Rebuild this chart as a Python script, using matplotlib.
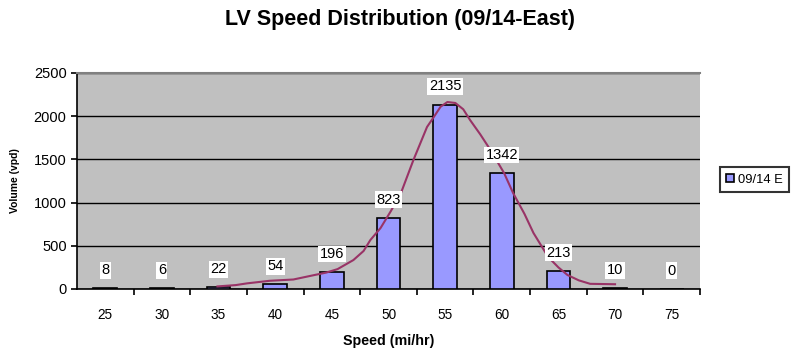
import numpy as np
import matplotlib.pyplot as plt

plt.rcParams['font.family'] = ['Liberation Sans', 'DejaVu Sans']

speeds = [25, 30, 35, 40, 45, 50, 55, 60, 65, 70, 75]
volumes = [8, 6, 22, 54, 196, 823, 2135, 1342, 213, 10, 0]

# smooth curve
curve_x = [34.9, 36.5, 37.5, 39.5, 41.6, 43.4, 44.5, 45.5, 46.9, 47.8, 48.4, 49.3,
           50.2, 51.1, 52.2, 53.4, 54.0, 54.6, 55.2, 55.9, 56.6, 57.2, 58.1,
           59.0, 60.2, 61.0, 62.0, 62.8, 64.1, 65.0, 65.8, 66.8, 67.8, 70.0]
curve_y = [30, 45, 65, 95, 110, 160, 190, 230, 335, 440, 567, 706,
           900, 1111, 1493, 1875, 1991, 2110, 2164, 2153, 2080, 1956, 1790,
           1609, 1343, 1111, 870, 648, 370, 250, 162, 100, 60, 55]

fig = plt.figure(figsize=(7.94, 3.51), dpi=100)
ax = fig.add_axes([77/794, 1 - 289/351, 623/794, 216/351])
ax.set_facecolor('#C0C0C0')

ax.bar(speeds, volumes, width=2.1, color='#9999FF', edgecolor='black',
       linewidth=1.2, zorder=3, label='09/14 E')
ax.plot(curve_x, curve_y, color='#993366', linewidth=1.5, zorder=4)

for s, v in zip(speeds, volumes):
    ax.annotate(str(v), (s, v), xytext=(0, 13), textcoords='offset points',
                ha='center', va='center', fontsize=10.5, zorder=5,
                bbox=dict(boxstyle='square,pad=0.1', fc='white', ec='none'))

ax.set_xlim(22.5, 77.5)
ax.set_ylim(0, 2500)
ax.set_yticks([0, 500, 1000, 1500, 2000, 2500])
ax.yaxis.grid(True, color='black', linewidth=1, zorder=1)
ax.set_axisbelow(True)

ax.set_xticks(speeds)
ax.set_xticks(np.arange(27.5, 77.6, 5), minor=True)
ax.tick_params(axis='x', which='major', length=0, pad=14, labelsize=9.8)
ax.tick_params(axis='x', which='minor', length=4, width=1.2, direction='out')
ax.tick_params(axis='y', length=4, width=1.2, labelsize=10.5)

ax.spines['right'].set_visible(False)
ax.spines['top'].set_color('#808080')
ax.spines['top'].set_linewidth(1.5)
ax.spines['left'].set_linewidth(1.2)
ax.spines['bottom'].set_linewidth(1.2)

ax.set_xlabel('Speed (mi/hr)', fontsize=10.3, fontweight='bold', labelpad=8)
ax.set_ylabel('Volume (vpd)', fontsize=7.5, fontweight='bold', labelpad=10)
fig.suptitle('LV Speed Distribution (09/14-East)', x=0.504, y=0.975,
             fontsize=15.5, fontweight='bold')

leg = ax.legend(loc='center left', bbox_to_anchor=((720 - 77) / 623, 0.505),
                fontsize=9.3, frameon=True, fancybox=False, handlelength=0.6,
                handleheight=0.6, handletextpad=0.3, borderpad=0.5,
                borderaxespad=0)
leg.get_frame().set_edgecolor('black')
leg.get_frame().set_linewidth(1.5)

fig.savefig('out.png', dpi=100)
